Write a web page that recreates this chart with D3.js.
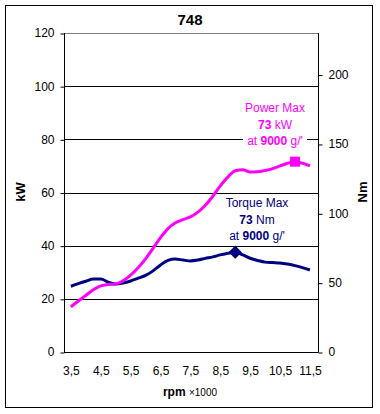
<!DOCTYPE html>
<html>
<head>
<meta charset="utf-8">
<script src="https://cdn.jsdelivr.net/npm/d3@7"></script>
<style>
  body { margin: 0; background: #fff; }
  svg { display: block; font-family: "Liberation Sans", Arial, sans-serif; }
</style>
</head>
<body>
<svg width="380" height="414"></svg>
<script>
// rpm x1000
const rpm = [3.5, 3.75, 4, 4.25, 4.5, 4.75, 5, 5.25, 5.5, 5.75, 6, 6.25, 6.5, 6.75, 7, 7.25, 7.5,
  7.75, 8, 8.25, 8.5, 8.75, 9, 9.25, 9.5, 9.75, 10, 10.25, 10.5, 10.75, 11, 11.25, 11.5];
// kW
const power = [17.0, 19.2, 21.3, 23.4, 24.9, 25.4, 25.6, 26.8, 28.9, 31.7, 35.0, 39.0, 43.0, 46.4, 48.6, 49.8, 50.8,
  52.6, 55.2, 58.6, 62.5, 65.8, 68.2, 68.6, 67.7, 67.8, 68.3, 69.0, 70.0, 71.0, 71.6, 71.0, 70.0];
// Nm
const torque = [47.4, 49.3, 51.0, 52.6, 52.6, 50.4, 49.0, 49.7, 51.2, 53.2, 55.2, 58.5, 62.8, 66.0, 67.0, 66.3, 65.7,
  66.3, 67.5, 68.6, 70.0, 71.2, 72.0, 70.0, 67.6, 66.0, 64.8, 64.5, 64.2, 63.4, 62.3, 60.8, 59.1];

const xTicks = [3.5, 4.5, 5.5, 6.5, 7.5, 8.5, 9.5, 10.5, 11.5];
const kwTicks = [0, 20, 40, 60, 80, 100, 120];
const nmTicks = [0, 50, 100, 150, 200];
const powerMarkRpm = 11, torqueMarkRpm = 9;

const svg = d3.select("svg");
const plotL = 64, plotR = 318, plotT = 33, plotB = 352;

const x = d3.scaleLinear().domain([3.27, 11.77]).range([plotL, plotR]);
const yKw = d3.scaleLinear().domain([0, 120]).range([plotB, plotT]);
const yNm = d3.scaleLinear().domain([0, 230]).range([plotB, plotT]);

// outer frame
svg.append("rect")
  .attr("x", 5.5).attr("y", 5.5).attr("width", 367).attr("height", 402)
  .attr("fill", "none").attr("stroke", "#000");

// title
svg.append("text")
  .attr("x", 190).attr("y", 25)
  .attr("text-anchor", "middle")
  .attr("font-size", 15).attr("font-weight", "bold")
  .text("748");

// grid lines
svg.append("g")
  .selectAll("line")
  .data(kwTicks.filter(d => d > 0))
  .enter().append("line")
  .attr("x1", plotL).attr("x2", plotR)
  .attr("y1", d => Math.round(yKw(d)) + 0.5)
  .attr("y2", d => Math.round(yKw(d)) + 0.5)
  .attr("stroke", d => d === 120 ? "#808080" : "#000");

// left axis
svg.append("g")
  .attr("transform", `translate(${plotL + 0.5},0)`)
  .call(d3.axisLeft(yKw).tickValues(kwTicks).tickSize(4).tickPadding(6))
  .call(g => g.select(".domain").attr("d", `M0,${plotT}V${plotB + 0.5}`))
  .call(g => g.selectAll(".tick line").attr("y1", 0.5).attr("y2", 0.5))
  .call(g => g.selectAll("text").attr("font-size", 12).attr("font-family", null));

// right axis
svg.append("g")
  .attr("transform", `translate(${plotR + 0.5},0)`)
  .call(d3.axisRight(yNm).tickValues(nmTicks).tickSize(4).tickPadding(6))
  .call(g => g.select(".domain").attr("d", `M0,${plotT}V${plotB + 0.5}`))
  .call(g => g.selectAll(".tick line").attr("y1", 0.5).attr("y2", 0.5))
  .call(g => g.selectAll("text").attr("font-size", 12).attr("font-family", null));

// bottom axis
svg.append("g")
  .attr("transform", `translate(0,${plotB + 0.5})`)
  .call(d3.axisBottom(x).tickValues(xTicks).tickSize(0).tickPadding(14)
    .tickFormat(d => String(d).replace(".", ",")))
  .call(g => g.select(".domain").attr("d", `M${plotL},0H${plotR + 0.5}`))
  .call(g => g.selectAll("text").attr("font-size", 12).attr("font-family", null));

// axis titles
svg.append("text")
  .attr("transform", "translate(25,192) rotate(-90)")
  .attr("text-anchor", "middle").attr("font-size", 13).attr("font-weight", "bold")
  .text("kW");
svg.append("text")
  .attr("transform", "translate(367,192) rotate(-90)")
  .attr("text-anchor", "middle").attr("font-size", 13).attr("font-weight", "bold")
  .text("Nm");
const xt = svg.append("text")
  .attr("x", 190).attr("y", 396)
  .attr("text-anchor", "middle");
xt.append("tspan").attr("font-size", 12).attr("font-weight", "bold").text("rpm ");
xt.append("tspan").attr("font-size", 10).text("×1000");

// annotations
function note(cx, y0, color, unit) {
  const g = svg.append("g");
  const bg = g.append("rect").attr("fill", "#fff");
  const t = g.append("g").attr("fill", color).attr("font-size", 12).attr("text-anchor", "middle");
  t.append("text").attr("x", cx).attr("y", y0).text(unit === "kW" ? "Power Max" : "Torque Max");
  const l2 = t.append("text").attr("x", cx).attr("y", y0 + 16.5);
  l2.append("tspan").attr("font-weight", "bold").text("73");
  l2.append("tspan").text(" " + unit);
  const l3 = t.append("text").attr("x", cx).attr("y", y0 + 33);
  l3.append("tspan").text("at ");
  l3.append("tspan").attr("font-weight", "bold").text("9000");
  l3.append("tspan").text(" g/'");
  const b = t.node().getBBox();
  bg.attr("x", b.x - 2).attr("y", b.y).attr("width", b.width + 4).attr("height", b.height);
}
note(275, 112, "#ff00ff", "kW");
note(257, 207, "#000080", "Nm");

// curves
const line = d3.line().curve(d3.curveMonotoneX);
svg.append("path")
  .attr("d", line(rpm.map((r, i) => [x(r), yNm(torque[i])])))
  .attr("fill", "none").attr("stroke", "#000080").attr("stroke-width", 3);
svg.append("path")
  .attr("d", line(rpm.map((r, i) => [x(r), yKw(power[i])])))
  .attr("fill", "none").attr("stroke", "#ff00ff").attr("stroke-width", 3);

// markers
const pi = rpm.indexOf(powerMarkRpm), ti = rpm.indexOf(torqueMarkRpm);
svg.append("rect")
  .attr("x", x(rpm[pi]) - 5).attr("y", yKw(power[pi]) - 5)
  .attr("width", 10).attr("height", 10).attr("fill", "#ff00ff");
svg.append("path")
  .attr("d", d3.symbol(d3.symbolDiamond2, 110)())
  .attr("transform", `translate(${x(rpm[ti])},${yNm(torque[ti])})`)
  .attr("fill", "#000080");
</script>
</body>
</html>
